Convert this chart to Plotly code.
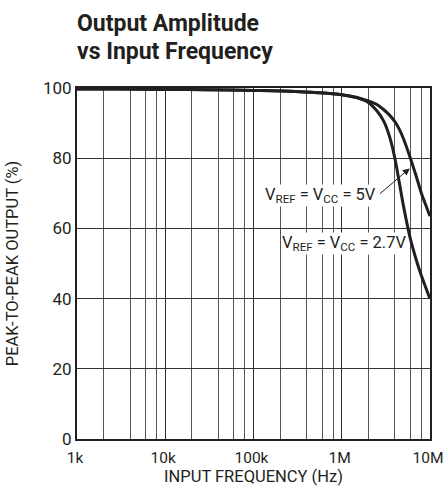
import plotly.graph_objects as go
import math

# Data
freq_hz = [1e3, 3e3, 1e4, 3e4, 1e5, 3e5, 1e6, 1.5e6, 2e6, 2.5e6, 3e6, 3.5e6,
           4e6, 4.5e6, 5e6, 6e6, 7e6, 8e6, 9e6, 1e7]
out_5v = [99.7, 99.7, 99.6, 99.5, 99.3, 99.0, 98.1, 97.3, 96.3, 95.3, 93.8, 92.2,
          90.4, 88.2, 85.6, 80.0, 74.8, 70.0, 66.5, 63.5]
out_2v7 = [99.7, 99.7, 99.6, 99.5, 99.3, 99.0, 98.1, 97.2, 95.9, 93.5, 90.5, 86.0,
           80.0, 73.0, 66.5, 57.0, 51.0, 46.5, 43.0, 40.0]

x_tickvals = [1e3, 1e4, 1e5, 1e6, 1e7]
x_ticktext = ["1k", "10k", "100k", "1M", "10M"]
x_minor = [m * d for d in (1e3, 1e4, 1e5, 1e6) for m in (2, 4, 6, 8)]
y_tickvals = [0, 20, 40, 60, 80, 100]

FONT = "Roboto, Liberation Sans, Arial, sans-serif"
INK = "#231f20"

fig = go.Figure()
for vals in (out_5v, out_2v7):
    fig.add_trace(go.Scatter(x=freq_hz, y=vals, mode="lines",
                             line=dict(color=INK, width=3, shape="spline", smoothing=0.8),
                             showlegend=False, hoverinfo="skip"))

fig.update_layout(
    template="none",
    width=445, height=498,
    margin=dict(l=77, r=15, t=88, b=59),
    paper_bgcolor="white", plot_bgcolor="white",
    font=dict(family=FONT, size=16, color=INK),
)
fig.update_xaxes(
    type="log", range=[3, 7.0004], automargin=False,
    tickvals=x_tickvals, ticktext=x_ticktext, ticks="",
    ticklabeloverflow="allow", ticklabelshift=-2, ticklabelstandoff=3,
    showgrid=True, gridcolor="#333333", gridwidth=1,
    minor=dict(tickvals=x_minor, showgrid=True, gridcolor="#555555", gridwidth=1, ticks=""),
    showline=True, linecolor=INK, linewidth=2, mirror=True,
    tickfont=dict(size=15.5), zeroline=False,
    title=dict(text="INPUT FREQUENCY (Hz)", font=dict(size=16.5), standoff=3),
)
fig.update_yaxes(
    range=[0, 100], automargin=False, tickvals=y_tickvals, ticks="",
    showgrid=True, gridcolor="#333333", gridwidth=1,
    showline=True, linecolor=INK, linewidth=2, mirror=True,
    tickfont=dict(size=17), zeroline=False,
    title=dict(text="PEAK-TO-PEAK OUTPUT (%)", font=dict(size=16.5), standoff=20),
)

# Title (two lines, tight spacing)
fig.add_annotation(text="<b>Output Amplitude</b>", xref="paper", yref="paper",
                   x=0, y=1 + (88 - 8) / 351, xanchor="left", yanchor="top", xshift=-2,
                   showarrow=False, font=dict(size=23, family=FONT, color=INK))
fig.add_annotation(text="<b>vs Input Frequency</b>", xref="paper", yref="paper",
                   x=0, y=1 + (88 - 36) / 351, xanchor="left", yanchor="top", xshift=-2,
                   showarrow=False, font=dict(size=23, family=FONT, color=INK))

# Curve labels
fig.add_annotation(text="V<sub>REF</sub> = V<sub>CC</sub> = 5V", x=6.40, y=69.5,
                   xanchor="right", yanchor="middle", showarrow=False,
                   bgcolor="white", borderpad=0, font=dict(size=16.5))
fig.add_annotation(text="V<sub>REF</sub> = V<sub>CC</sub> = 2.7V", x=6.74, y=55.8,
                   xanchor="right", yanchor="middle", showarrow=False,
                   bgcolor="white", borderpad=0, font=dict(size=16.5))
# Arrow
fig.add_annotation(text="", x=math.log10(5.9e6), y=77.1, ax=math.log10(2.6e6), ay=69.5,
                   xref="x", yref="y", axref="x", ayref="y",
                   showarrow=True, arrowhead=2, arrowsize=1.4, arrowwidth=1, arrowcolor=INK)

fig.write_html(
    "out.html",
    config={"displayModeBar": False},
    post_script="document.body.style.margin='0';document.body.style.overflow='hidden';",
)
